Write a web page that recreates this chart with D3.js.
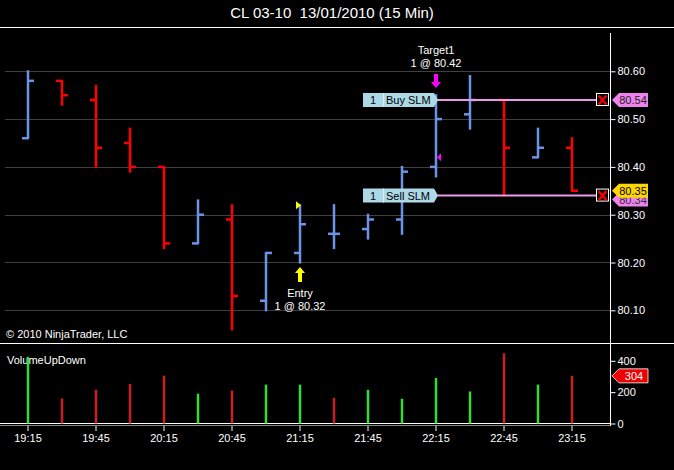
<!DOCTYPE html>
<html>
<head>
<meta charset="utf-8">
<script src="https://cdn.jsdelivr.net/npm/d3@7"></script>
<style>
  body { margin: 0; background: #000; }
  text { font-family: Arial, "Liberation Sans", sans-serif; white-space: pre; }
</style>
</head>
<body>
<div id="chart"></div>
<script>
// 15 min bars, CL 03-10
var times  = ["19:15","19:30","19:45","20:00","20:15","20:30","20:45","21:00","21:15",
              "21:30","21:45","22:00","22:15","22:30","22:45","23:00","23:15"];
var opens  = [80.46,80.58,80.54,80.45,80.40,80.24,80.29,80.12,80.22,80.26,80.27,80.29,80.40,80.51,80.54,80.42,80.44];
var highs  = [80.60,80.58,80.57,80.48,80.40,80.33,80.32,80.22,80.32,80.32,80.30,80.40,80.55,80.59,80.54,80.48,80.46];
var lows   = [80.46,80.53,80.40,80.39,80.23,80.24,80.06,80.10,80.20,80.23,80.25,80.26,80.38,80.48,80.34,80.42,80.35];
var closes = [80.58,80.55,80.44,80.40,80.24,80.30,80.13,80.22,80.28,80.26,80.29,80.39,80.50,80.54,80.44,80.44,80.35];
var volumes = [425,160,215,253,305,190,210,248,248,164,215,158,290,204,448,248,304];

var priceTicks = [80.10,80.20,80.30,80.40,80.50,80.60];
var volTicks = [0,200,400];
var timeLabels = ["19:15","19:45","20:15","20:45","21:15","21:45","22:15","22:45","23:15"];

// working orders
var buyStop = 80.54, sellStop = 80.34;
var entryPrice = 80.32, targetPrice = 80.42;

var W = 674, H = 470;
var svg = d3.select("#chart").append("svg")
    .attr("width", W).attr("height", H)
    .style("background", "#000");

var x = d3.scaleLinear().domain([0, times.length - 1]).range([28, 572]);
var y = d3.scaleLinear().domain([80.10, 80.60]).range([310.3, 71.3]);
var yv = d3.scaleLinear().domain([0, 400]).range([423.5, 360.8]);
var axisX = 610;

// title
svg.append("text").attr("x", 332).attr("y", 18).attr("text-anchor", "middle")
   .attr("fill", "#fff").style("font-size", "15px").text("CL 03-10  13/01/2010 (15 Min)");

// panel frames
svg.append("line").attr("x1", 0).attr("x2", W).attr("y1", 27.5).attr("y2", 27.5).attr("stroke", "#fff");
svg.append("line").attr("x1", 0).attr("x2", W).attr("y1", 343.5).attr("y2", 343.5).attr("stroke", "#fff");
svg.append("line").attr("x1", axisX + 0.5).attr("x2", axisX + 0.5).attr("y1", 33).attr("y2", 426).attr("stroke", "#fff");
svg.append("line").attr("x1", 0).attr("x2", axisX).attr("y1", 423.5).attr("y2", 423.5).attr("stroke", "#fff");
svg.append("line").attr("x1", 0).attr("x2", axisX).attr("y1", 425.5).attr("y2", 425.5).attr("stroke", "#888");

// price grid
svg.append("g").selectAll("line").data(priceTicks).enter().append("line")
   .attr("x1", 5).attr("x2", axisX)
   .attr("y1", function(d) { return Math.round(y(d)) + 0.5; })
   .attr("y2", function(d) { return Math.round(y(d)) + 0.5; })
   .attr("stroke", "#3f3f3f");

// right price axis
var pAxis = svg.append("g").attr("transform", "translate(" + (axisX + 0.5) + ",0)")
   .call(d3.axisRight(y).tickValues(priceTicks).tickSize(5).tickFormat(d3.format(".2f")));
pAxis.select(".domain").remove();
pAxis.selectAll("line").attr("stroke", "#fff");
pAxis.selectAll("text").attr("fill", "#fff").style("font-size", "11px").attr("x", 7);

// OHLC bars
var bars = svg.append("g").selectAll("g").data(times).enter().append("g")
   .attr("stroke", function(d, i) { return closes[i] >= opens[i] ? "#6b94e6" : "#ff0000"; })
   .attr("stroke-width", 2.5);
bars.append("line")
   .attr("x1", function(d, i) { return x(i); }).attr("x2", function(d, i) { return x(i); })
   .attr("y1", function(d, i) { return y(highs[i]) - 1; }).attr("y2", function(d, i) { return y(lows[i]) + 1; });
bars.append("line")
   .attr("x1", function(d, i) { return x(i) - 6; }).attr("x2", function(d, i) { return x(i); })
   .attr("y1", function(d, i) { return y(opens[i]); }).attr("y2", function(d, i) { return y(opens[i]); });
bars.append("line")
   .attr("x1", function(d, i) { return x(i); }).attr("x2", function(d, i) { return x(i) + 6; })
   .attr("y1", function(d, i) { return y(closes[i]); }).attr("y2", function(d, i) { return y(closes[i]); });

// order lines
function orderLine(price, label) {
  var yy = y(price);
  svg.append("line").attr("x1", 437).attr("x2", 596).attr("y1", yy).attr("y2", yy)
     .attr("stroke", "#e79be7").attr("stroke-width", 2);
  svg.append("path")
     .attr("d", "M363," + (yy - 7) + "H434L438," + yy + "L434," + (yy + 7) + "H363Z")
     .attr("fill", "#add8e6");
  svg.append("line").attr("x1", 383.5).attr("x2", 383.5).attr("y1", yy - 7).attr("y2", yy + 7)
     .attr("stroke", "#d8eef5");
  svg.append("text").attr("x", 373).attr("y", yy + 4).attr("text-anchor", "middle")
     .attr("fill", "#000").style("font-size", "11px").text("1");
  svg.append("text").attr("x", 386).attr("y", yy + 4)
     .attr("fill", "#000").style("font-size", "11px").text(label);
  // cancel box
  svg.append("rect").attr("x", 596.5).attr("y", yy - 6.5).attr("width", 12).attr("height", 12)
     .attr("fill", "#000").attr("stroke", "#fff");
  svg.append("path").attr("d", "M598.5," + (yy - 4.5) + "L606.5," + (yy + 4.5) + "M606.5," + (yy - 4.5) + "L598.5," + (yy + 4.5))
     .attr("stroke", "#e00").attr("stroke-width", 2.5);
}
orderLine(buyStop, "Buy SLM");
orderLine(sellStop, "Sell SLM");

// right axis price markers
function marker(yy, txt, fill, color) {
  svg.append("path")
     .attr("d", "M612," + yy + "L619," + (yy - 7) + "H648V" + (yy + 7) + "H619Z")
     .attr("fill", fill);
  svg.append("text").attr("x", 633).attr("y", yy + 4).attr("text-anchor", "middle")
     .attr("fill", color).style("font-size", "11px").text(txt);
}
marker(y(sellStop) + 4, sellStop.toFixed(2), "#ee82ee", "#333");
marker(y(buyStop), buyStop.toFixed(2), "#ee82ee", "#222");
marker(y(closes[closes.length - 1]), closes[closes.length - 1].toFixed(2), "#ffd700", "#000");

// entry execution
var ei = 8;
svg.append("path")
   .attr("d", "M" + (x(ei) - 4) + "," + (y(entryPrice) - 4) + "L" + (x(ei) + 1) + "," + y(entryPrice) + "L" + (x(ei) - 4) + "," + (y(entryPrice) + 4) + "Z")
   .attr("fill", "#ffff00");
svg.append("path")
   .attr("d", "M" + x(ei) + "," + 267 + "L" + (x(ei) + 5) + "," + 273 + "H" + (x(ei) + 2) + "V282H" + (x(ei) - 2) + "V273H" + (x(ei) - 5) + "Z")
   .attr("fill", "#ffff00");
svg.append("text").attr("x", x(ei)).attr("y", 297).attr("text-anchor", "middle")
   .attr("fill", "#fff").style("font-size", "11px").text("Entry");
svg.append("text").attr("x", x(ei)).attr("y", 310).attr("text-anchor", "middle")
   .attr("fill", "#fff").style("font-size", "11px").text("1 @ " + entryPrice.toFixed(2));

// target execution
var ti = 12;
svg.append("path")
   .attr("d", "M" + x(ti) + "," + 88 + "L" + (x(ti) + 5) + "," + 82 + "H" + (x(ti) + 2) + "V74H" + (x(ti) - 2) + "V82H" + (x(ti) - 5) + "Z")
   .attr("fill", "#ff00ff");
svg.append("path")
   .attr("d", "M" + (x(ti) + 1) + "," + y(targetPrice) + "L" + (x(ti) + 5) + "," + (y(targetPrice) - 4) + "V" + (y(targetPrice) + 4) + "Z")
   .attr("fill", "#ff00ff");
svg.append("text").attr("x", x(ti)).attr("y", 54).attr("text-anchor", "middle")
   .attr("fill", "#fff").style("font-size", "11px").text("Target1");
svg.append("text").attr("x", x(ti)).attr("y", 67).attr("text-anchor", "middle")
   .attr("fill", "#fff").style("font-size", "11px").text("1 @ " + targetPrice.toFixed(2));

svg.append("text").attr("x", 6).attr("y", 338).attr("fill", "#fff")
   .style("font-size", "11px").text("\u00a9 2010 NinjaTrader, LLC");

// volume panel
svg.append("text").attr("x", 7).attr("y", 364).attr("fill", "#fff")
   .style("font-size", "11px").text("VolumeUpDown");
svg.append("g").selectAll("line").data(volumes).enter().append("line")
   .attr("x1", function(d, i) { return x(i); }).attr("x2", function(d, i) { return x(i); })
   .attr("y1", yv(0)).attr("y2", function(d) { return yv(d); })
   .attr("stroke", function(d, i) { return closes[i] > opens[i] ? "#33dd33" : "#cc2020"; })
   .attr("stroke-width", 2.5);

var vAxis = svg.append("g").attr("transform", "translate(" + (axisX + 0.5) + ",0)")
   .call(d3.axisRight(yv).tickValues(volTicks).tickSize(5));
vAxis.select(".domain").remove();
vAxis.selectAll("line").attr("stroke", "#fff");
vAxis.selectAll("text").attr("fill", "#fff").style("font-size", "11px").attr("x", 7);

var lastVol = volumes[volumes.length - 1];
svg.append("path")
   .attr("d", "M612," + yv(lastVol) + "L619," + (yv(lastVol) - 7) + "H648V" + (yv(lastVol) + 7) + "H619Z")
   .attr("fill", "#ee0000").attr("stroke", "#fff").attr("stroke-width", 0.8);
svg.append("text").attr("x", 634).attr("y", yv(lastVol) + 4).attr("text-anchor", "middle")
   .attr("fill", "#fff").style("font-size", "11px").text(lastVol);

// time axis
var tg = svg.append("g").selectAll("g").data(timeLabels).enter().append("g")
   .attr("transform", function(d) { return "translate(" + x(times.indexOf(d)) + ",0)"; });
tg.append("line").attr("y1", 426).attr("y2", 431).attr("stroke", "#fff");
tg.append("text").attr("y", 442).attr("text-anchor", "middle").attr("fill", "#fff")
   .style("font-size", "11px").text(function(d) { return d; });
</script>
</body>
</html>
